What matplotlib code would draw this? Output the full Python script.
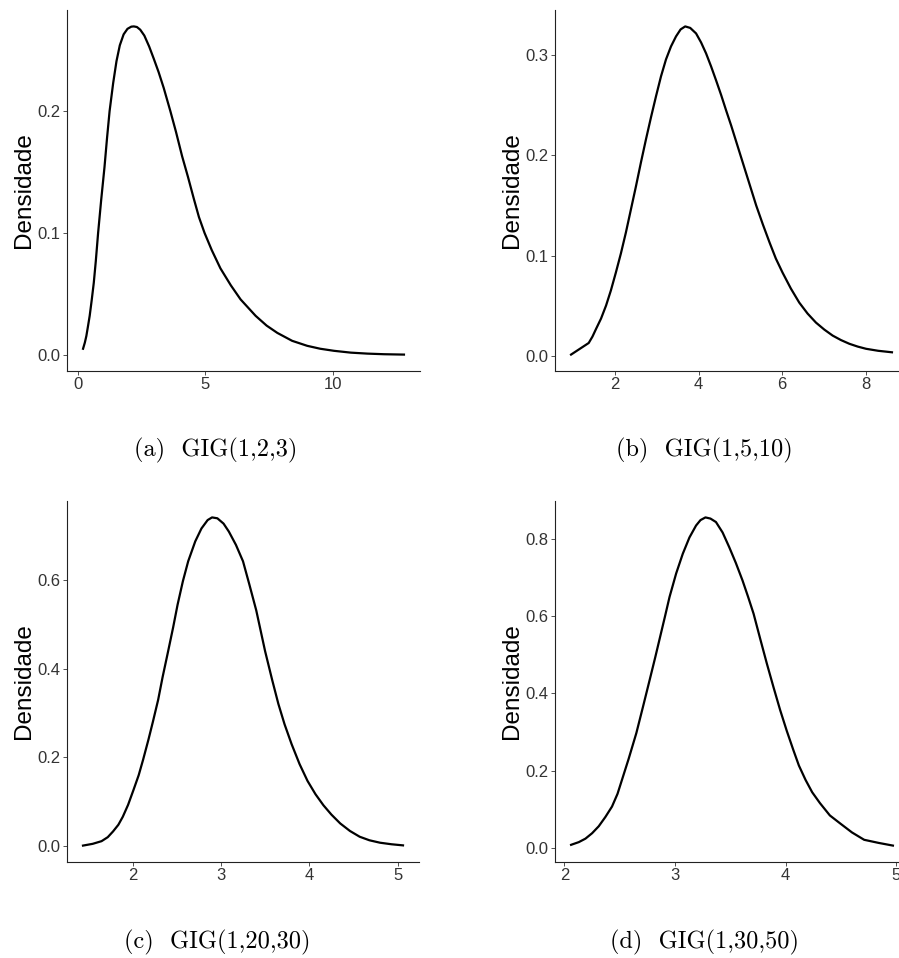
import numpy as np
import matplotlib
matplotlib.use('Agg')
import matplotlib.pyplot as plt
from matplotlib.ticker import FormatStrFormatter

# valores (x, densidade)
x_a = [0.21, 0.28, 0.34, 0.40, 0.47, 0.55, 0.63, 0.71, 0.80, 0.92, 1.05, 1.15, 1.25, 1.39,
       1.52, 1.65, 1.80, 1.95, 2.10, 2.20, 2.32, 2.45, 2.61, 2.80, 2.98, 3.17, 3.37, 3.63,
       3.85, 4.09, 4.32, 4.55, 4.75, 4.97, 5.25, 5.59, 6.00, 6.38, 6.97, 7.40, 7.82, 8.40,
       8.99, 9.50, 10.04, 10.70, 11.35, 12.00, 12.78]
y_a = [0.005, 0.010, 0.0155, 0.023, 0.032, 0.045, 0.059, 0.077, 0.100, 0.127, 0.154, 0.178, 0.200, 0.223,
       0.241, 0.254, 0.263, 0.2675, 0.2693, 0.2695, 0.269, 0.2668, 0.262, 0.253, 0.243, 0.232, 0.219, 0.200,
       0.183, 0.163, 0.146, 0.128, 0.113, 0.100, 0.086, 0.071, 0.057, 0.0455, 0.032, 0.024, 0.018, 0.0115,
       0.0074, 0.0050, 0.0033, 0.0018, 0.0010, 0.0005, 0.0002]

x_b = [0.947, 1.37, 1.46, 1.545, 1.665, 1.785, 1.90, 2.02, 2.14, 2.26, 2.38, 2.50, 2.62, 2.74,
       2.86, 2.98, 3.10, 3.22, 3.34, 3.46, 3.57, 3.68, 3.80, 3.94, 4.06, 4.18, 4.30, 4.42,
       4.54, 4.66, 4.78, 4.90, 5.02, 5.14, 5.26, 5.38, 5.54, 5.70, 5.85, 6.01, 6.21, 6.41,
       6.61, 6.81, 7.01, 7.21, 7.41, 7.61, 7.81, 8.01, 8.30, 8.63]
y_b = [0.001, 0.0126, 0.019, 0.0266, 0.037, 0.050, 0.065, 0.083, 0.102, 0.123, 0.146, 0.169, 0.193, 0.216,
       0.238, 0.259, 0.279, 0.296, 0.309, 0.319, 0.326, 0.329, 0.3275, 0.322, 0.313, 0.302, 0.289, 0.275,
       0.2605, 0.245, 0.230, 0.214, 0.198, 0.182, 0.166, 0.150, 0.131, 0.113, 0.097, 0.083, 0.067, 0.053,
       0.042, 0.033, 0.026, 0.020, 0.0155, 0.0118, 0.0090, 0.0068, 0.0048, 0.0033]

x_c = [1.44, 1.55, 1.65, 1.72, 1.78, 1.84, 1.89, 1.95, 2.01, 2.07, 2.12, 2.18, 2.23, 2.29,
       2.34, 2.40, 2.46, 2.51, 2.57, 2.63, 2.71, 2.78, 2.85, 2.90, 2.96, 3.03, 3.09, 3.17,
       3.25, 3.32, 3.40, 3.45, 3.50, 3.58, 3.65, 3.72, 3.80, 3.89, 3.98, 4.07, 4.16, 4.25,
       4.35, 4.46, 4.57, 4.68, 4.80, 4.93, 5.06]
y_c = [0.001, 0.005, 0.011, 0.020, 0.033, 0.048, 0.066, 0.093, 0.126, 0.160, 0.195, 0.240, 0.280, 0.330,
       0.381, 0.437, 0.494, 0.545, 0.598, 0.643, 0.688, 0.717, 0.736, 0.742, 0.740, 0.728, 0.710, 0.680,
       0.643, 0.592, 0.532, 0.486, 0.440, 0.375, 0.321, 0.275, 0.230, 0.185, 0.147, 0.117, 0.092, 0.071,
       0.051, 0.034, 0.021, 0.013, 0.0075, 0.004, 0.0015]

x_d = [2.06, 2.13, 2.19, 2.25, 2.31, 2.37, 2.43, 2.48, 2.52, 2.58, 2.65, 2.71, 2.77, 2.82,
       2.86, 2.91, 2.95, 3.01, 3.07, 3.13, 3.19, 3.23, 3.275, 3.32, 3.37, 3.43, 3.49, 3.55,
       3.61, 3.66, 3.71, 3.77, 3.83, 3.89, 3.95, 4.01, 4.07, 4.12, 4.18, 4.24, 4.31, 4.40,
       4.49, 4.60, 4.71, 4.84, 4.97]
y_d = [0.008, 0.015, 0.024, 0.038, 0.056, 0.080, 0.107, 0.140, 0.176, 0.230, 0.297, 0.365, 0.434, 0.492,
       0.540, 0.600, 0.649, 0.710, 0.761, 0.803, 0.834, 0.848, 0.855, 0.852, 0.843, 0.816, 0.778, 0.737,
       0.692, 0.650, 0.606, 0.541, 0.477, 0.416, 0.357, 0.303, 0.253, 0.213, 0.176, 0.144, 0.116, 0.084,
       0.064, 0.040, 0.021, 0.013, 0.006]

xticks = [[0, 5, 10], [2, 4, 6, 8], [2, 3, 4, 5], [2, 3, 4, 5]]
yticks = [[0.0, 0.1, 0.2], [0.0, 0.1, 0.2, 0.3], [0.0, 0.2, 0.4, 0.6], [0.0, 0.2, 0.4, 0.6, 0.8]]
legendas = ['(a)  GIG(1,2,3)', '(b)  GIG(1,5,10)', '(c)  GIG(1,20,30)', '(d)  GIG(1,30,50)']

W, H = 899, 958
fig = plt.figure(figsize=(W / 100, H / 100), dpi=100)

# caixas em pixels: esquerda, topo, direita, base
caixas = [(67, 10, 420, 371), (555, 10, 908, 371), (67, 501, 419, 862), (555, 501, 909, 862)]
cap_pos = [(216, 450), (704, 450), (217, 942), (704, 942)]
dados = [(x_a, y_a), (x_b, y_b), (x_c, y_c), (x_d, y_d)]

for i in range(4):
    l, t, r, b = caixas[i]
    ax = fig.add_axes([l / W, 1 - b / H, (r - l) / W, (b - t) / H])
    ax.plot(dados[i][0], dados[i][1], color='black', lw=1.6)
    ax.margins(0.05)
    ax.set_xticks(xticks[i])
    ax.set_yticks(yticks[i])
    ax.yaxis.set_major_formatter(FormatStrFormatter('%.1f'))
    for s in ['top', 'right']:
        ax.spines[s].set_visible(False)
    for s in ['left', 'bottom']:
        ax.spines[s].set_linewidth(0.8)
        ax.spines[s].set_color('#222222')
    ax.tick_params(length=3, width=0.6, color='#333333', pad=1.5,
                   labelsize=12, labelcolor='#333333')
    for lab in ax.get_xticklabels() + ax.get_yticklabels():
        lab.set_family('Liberation Sans')
    ax.set_ylabel('Densidade', fontsize=17.5, family='Liberation Sans', labelpad=2)
    fig.text(cap_pos[i][0] / W, 1 - cap_pos[i][1] / H, legendas[i], family='cmr10',
             fontsize=17.5, ha='center', va='center')

fig.savefig('out.png', dpi=100)
